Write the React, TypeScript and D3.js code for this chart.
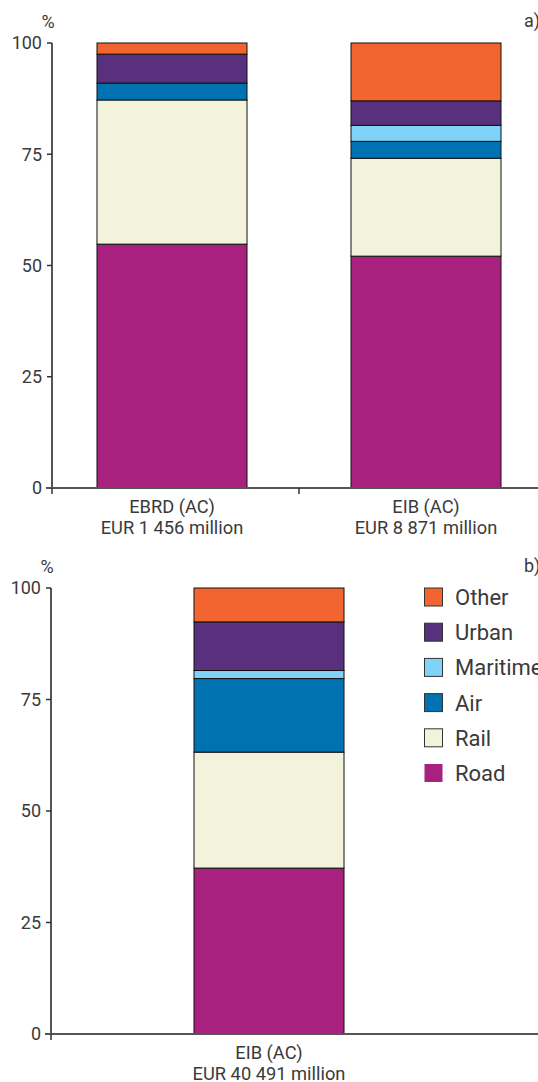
import React, { useRef, useEffect } from "react";
import * as d3 from "d3";

const categories = ["Road", "Rail", "Air", "Maritime", "Urban", "Other"];
const colors = ["#a9217f", "#f3f3dc", "#0072b1", "#80d3f7", "#58307d", "#f26531"];

// panel a
const barsA = ["EBRD (AC)", "EIB (AC)"];
const amountsA = ["EUR 1 456 million", "EUR 8 871 million"];
const ebrdValues = [54.8, 32.4, 3.8, 0, 6.5, 2.5];
const eibValues = [52.1, 22.0, 3.8, 3.6, 5.5, 13.0];

// panel b
const barsB = ["EIB (AC)"];
const amountsB = ["EUR 40 491 million"];
const eibAllValues = [37.2, 26.0, 16.5, 1.8, 10.9, 7.6];

const yTicks = [0, 25, 50, 75, 100];
const FONT = "Roboto, 'DejaVu Sans', sans-serif";
const TEXT = "#3a3a3a";

function toRows(names: string[], values: number[][]) {
  return names.map((n, i) => {
    const row: any = { name: n };
    categories.forEach((c, j) => (row[c] = values[i][j]));
    return row;
  });
}

function drawPanel(svg: any, opts: any) {
  const { top, bottom, left, xRange, names, amounts, rows, tag, barW } = opts;
  const g = svg.append("g");

  const y = d3.scaleLinear().domain([0, 100]).range([bottom, top]);
  const x = d3.scaleBand().domain(names).range(xRange).padding(0);

  const stack = d3.stack().keys(categories)(rows);

  // bars
  g.selectAll(".layer")
    .data(stack)
    .join("g")
    .attr("fill", (d: any, i: number) => colors[i])
    .selectAll("rect")
    .data((d: any) => d.filter((s: any) => s[1] - s[0] > 0))
    .join("rect")
    .attr("x", (d: any) => x(d.data.name) + (x.bandwidth() - barW) / 2)
    .attr("y", (d: any) => y(d[1]))
    .attr("width", barW)
    .attr("height", (d: any) => y(d[0]) - y(d[1]))
    .attr("stroke", "#111")
    .attr("stroke-width", 1);

  // y axis
  g.append("line")
    .attr("x1", left).attr("x2", left)
    .attr("y1", y(0)).attr("y2", y(100))
    .attr("stroke", "#555").attr("stroke-width", 2);
  g.selectAll(".ytick")
    .data(yTicks)
    .join("line")
    .attr("x1", left - 5).attr("x2", left)
    .attr("y1", (d: number) => y(d)).attr("y2", (d: number) => y(d))
    .attr("stroke", "#333").attr("stroke-width", 1.5);
  g.selectAll(".ylab")
    .data(yTicks)
    .join("text")
    .attr("x", left - 10)
    .attr("y", (d: number) => y(d))
    .attr("dy", "0.36em")
    .attr("text-anchor", "end")
    .attr("font-family", FONT)
    .attr("font-size", 18)
    .attr("fill", TEXT)
    .text((d: number) => d);

  // x axis
  g.append("line")
    .attr("x1", left - 6).attr("x2", 538)
    .attr("y1", y(0)).attr("y2", y(0))
    .attr("stroke", "#555").attr("stroke-width", 2);
  const sep = names.map((n: string) => x(n));
  g.selectAll(".xtick")
    .data(sep)
    .join("line")
    .attr("x1", (d: number, i: number) => (i === 0 ? left : d))
    .attr("x2", (d: number, i: number) => (i === 0 ? left : d))
    .attr("y1", y(0)).attr("y2", y(0) + 6)
    .attr("stroke", "#333").attr("stroke-width", 1.5);

  const lab = g.selectAll(".xlab")
    .data(names)
    .join("text")
    .attr("text-anchor", "middle")
    .attr("font-family", FONT)
    .attr("font-size", 18.3)
    .attr("fill", TEXT);
  lab.append("tspan")
    .attr("x", (d: string) => x(d) + x.bandwidth() / 2)
    .attr("y", y(0) + 25)
    .text((d: string) => d);
  lab.append("tspan")
    .attr("x", (d: string) => x(d) + x.bandwidth() / 2)
    .attr("y", y(0) + 46)
    .text((d: string, i: number) => amounts[i]);

  g.append("text")
    .attr("x", left - 4).attr("y", y(100) - 15)
    .attr("text-anchor", "middle")
    .attr("font-family", FONT).attr("font-size", 18).attr("fill", TEXT)
    .text("%");
  g.append("text")
    .attr("x", 524).attr("y", y(100) - 16)
    .attr("font-family", FONT).attr("font-size", 18).attr("fill", TEXT)
    .text(tag);
}

export default function App() {
  const ref = useRef<SVGSVGElement>(null);

  useEffect(() => {
    const svg = d3.select(ref.current);
    svg.selectAll("*").remove();

    drawPanel(svg, {
      top: 43, bottom: 488, left: 52, xRange: [45, 553], barW: 150,
      names: barsA, amounts: amountsA, tag: "a)",
      rows: toRows(barsA, [ebrdValues, eibValues]),
    });
    drawPanel(svg, {
      top: 588, bottom: 1034, left: 51, xRange: [52, 486], barW: 150,
      names: barsB, amounts: amountsB, tag: "b)",
      rows: toRows(barsB, [eibAllValues]),
    });

    // legend
    const legendItems = categories.map((c, i) => ({ c, color: colors[i] })).reverse();
    const ly = d3.scaleLinear().domain([0, 5]).range([588, 764]);
    const lg = svg.append("g");
    lg.selectAll("rect")
      .data(legendItems)
      .join("rect")
      .attr("x", 424.5)
      .attr("y", (d: any, i: number) => ly(i))
      .attr("width", 18).attr("height", 18)
      .attr("fill", (d: any) => d.color)
      .attr("stroke", (d: any) => (d.c === "Road" ? "none" : "#333"))
      .attr("stroke-width", 1);
    lg.selectAll("text")
      .data(legendItems)
      .join("text")
      .attr("x", 455)
      .attr("y", (d: any, i: number) => ly(i) + 9)
      .attr("dy", "0.36em")
      .attr("font-family", FONT)
      .attr("font-size", 22)
      .attr("fill", TEXT)
      .text((d: any) => d.c);
  }, []);

  return (
    <svg
      ref={ref}
      width={538}
      height={1082}
      style={{ position: "absolute", left: 0, top: 0, background: "#fff" }}
    />
  );
}
